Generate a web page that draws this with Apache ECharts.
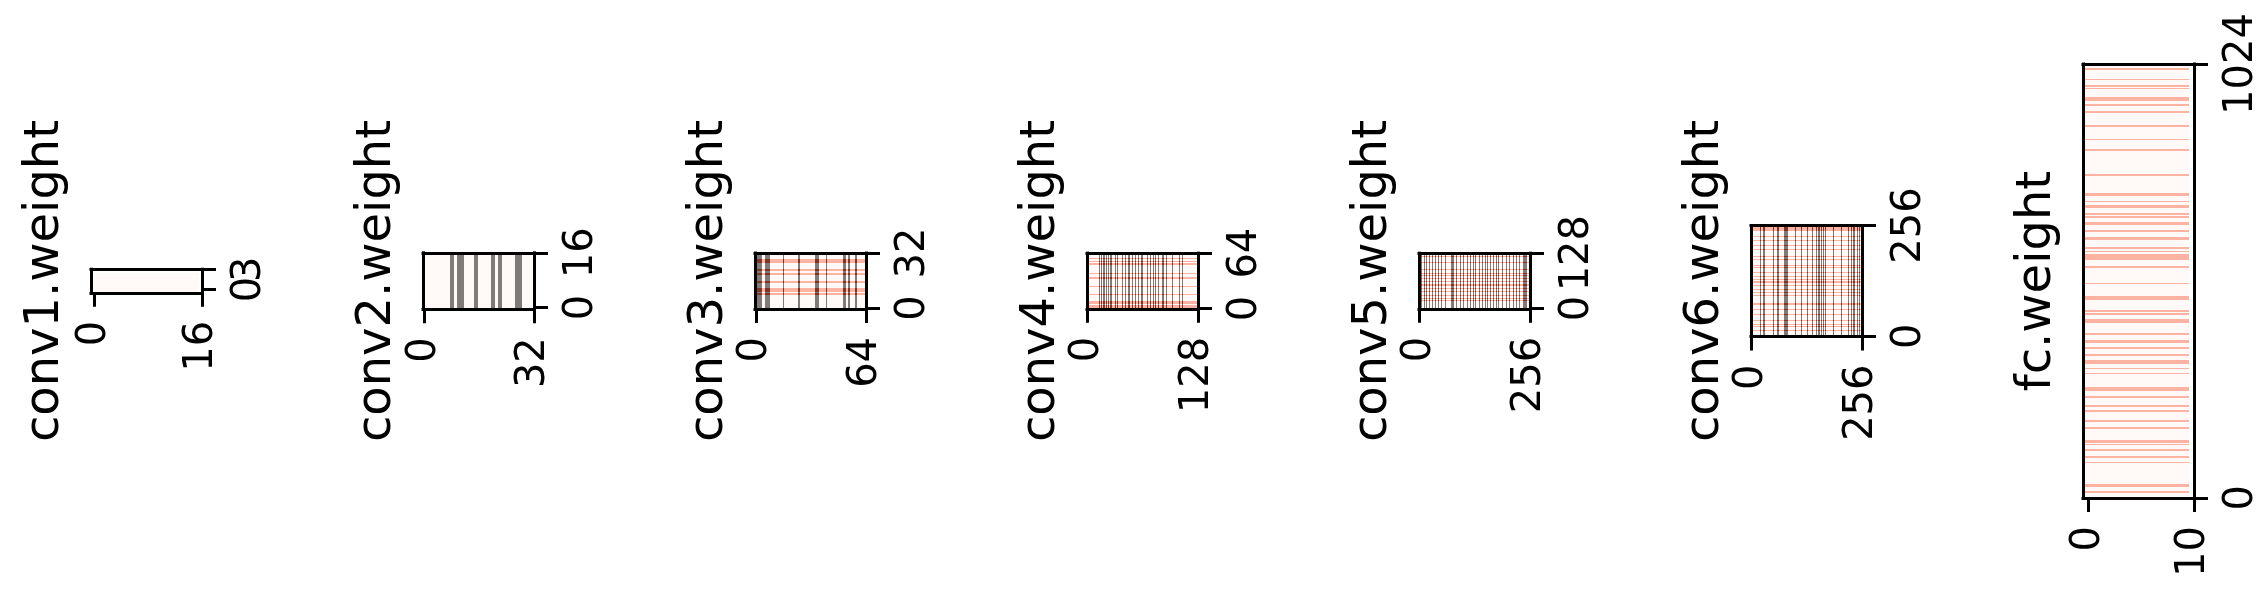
<!DOCTYPE html>
<html><head><meta charset="utf-8">
<script src="https://cdn.jsdelivr.net/npm/echarts@6/dist/echarts.min.js"></script>
<style>html,body{margin:0;padding:0;background:#fff}#chart{width:2268px;height:594px}</style>
</head><body><div id="chart"></div>
<script>
// ---------------- data ----------------
const layerNames = ['conv1.weight','conv2.weight','conv3.weight','conv4.weight','conv5.weight','conv6.weight','fc.weight'];
const xTickMax = [16, 32, 64, 128, 256, 256, 10];     // number of columns (x axis tick labels 0 and this)
const yTickMax = [3, 16, 32, 64, 128, 256, 1024];     // number of rows (y axis tick labels 0 and this)

// masked output channels -> dark vertical stripes
const conv1Cols = [];
const conv2Cols = [8,10,11,15,20,22,27,28];
const conv3Cols = [1,2,3,6,7,8,16,25,35,36,41,51,52,54,58];
const conv4Cols = [14,16,18,20,22,24,27,28,32,35,40,41,44,47,49,52,55,56,59,62,64,70,73,76,79,82,87,88,91,98,107,110];
const conv5Cols = [5,6,12,16,17,22,23,29,30,37,38,44,50,61,73,74,75,76,77,78,79,80,86,95,96,101,102,110,111,112,118,119,124,125,130,131,139,146,147,152,157,158,164,172,178,183,184,192,201,209,210,218,223,231,232,240,241,242,243,244,245,246,247,248];
const conv6Cols = [20,21,22,23,28,29,30,31,32,50,51,52,61,62,63,76,77,78,79,81,82,83,84,85,102,103,116,117,129,130,141,142,150,151,155,156,158,162,163,167,168,170,171,190,191,208,209,225,226,230,231,235,236,239,240,245,246,249,250];
const fcCols = [];

// masked input rows -> red horizontal stripes (as visible in the picture)
const conv1Rows = [];
const conv2Rows = [];
const conv3Rows = [8,10,11,15,20,22,27,28];
const conv4Rows = [1,2,3,6,7,8,16,25,35,36,41,51,52,54,58];
const conv5Rows = [19,24,30,41,46,53,57,64,70,76,82,91,107,120];
const conv6Rows = [15,23,29,38,50,62,73,74,75,76,77,94,101,108,118,124,125,128,131,139,149,159,164,178,186,201,211,223,232,243,244,245,246,247,248,249,250,251,252];
const fcRowRanges = [[12,16],[27,31],[83,85],[95,98],[110,114],[125,127],[131,137],[164,166],[179,182],[202,206],[215,218],[235,239],[252,261],[292,294],[304,307],[316,325],[335,339],[351,355],[367,371],[384,389],[412,422],[431,435],[438,442],[467,475],[504,506],[544,546],[563,567],[570,574],[581,583],[588,591],[610,614],[627,631],[644,650],[660,664],[668,672],[684,690],[699,701],[714,718],[759,763],[820,822],[844,846],[875,879],[908,912],[926,930],[936,946],[965,967],[971,975],[987,989],[1011,1015]];

// ---------------- helpers ----------------
function runs(idx){
  const s = idx.slice().sort((a,b)=>a-b); const out=[];
  for (const v of s){ const l=out[out.length-1]; if(l && v===l[1]+1) l[1]=v; else if(!l || v>l[1]) out.push([v,v]); }
  return out;
}
const colsList = [conv1Cols,conv2Cols,conv3Cols,conv4Cols,conv5Cols,conv6Cols,fcCols].map(runs);
const rowsList = [runs(conv1Rows),runs(conv2Rows),runs(conv3Rows),runs(conv4Rows),runs(conv5Rows),runs(conv6Rows),fcRowRanges];

// composite colours: Reds layer (alpha .5) over black column mask on white
const fills = ['#fffaf8', '#fcb3a1', '#807b78', '#7e3525']; // bg, row, col, row&col

function cellItems(i){
  const N=xTickMax[i], M=yTickMax[i], items=[[-0.5,N-0.5,-0.5,M-0.5,0]];
  for (const r of rowsList[i]) items.push([-0.5,N-0.5,r[0]-0.5,r[1]+0.5,1]);
  for (const c of colsList[i]) items.push([c[0]-0.5,c[1]+0.5,-0.5,M-0.5,2]);
  for (const r of rowsList[i]) for (const c of colsList[i]) items.push([c[0]-0.5,c[1]+0.5,r[0]-0.5,r[1]+0.5,3]);
  return items;
}
function renderItem(params, api){
  const a = api.coord([api.value(0), api.value(3)]);
  const b = api.coord([api.value(1), api.value(2)]);
  let l=Math.round(a[0]), r=Math.round(b[0]), t=Math.round(a[1]), bt=Math.round(b[1]);
  if (r<=l) r=l+1; if (bt<=t) bt=t+1;
  return {type:'rect', shape:{x:l,y:t,width:r-l,height:bt-t}, style:{fill:fills[api.value(4)]}};
}

// ---------------- layout ----------------
const FONT='DejaVu Sans';
const boxW=111, centerY=281, firstLeft=91, step=332;
const grids=[], xAxes=[], yAxes=[], series=[];
const lineStyle={color:'#000', width:3, cap:'square'};
const plain = v => String(v);
const tickLabel = {formatter:plain, showMinLabel:true, showMaxLabel:true, hideOverlap:false,
  rotate:90, margin:28, fontSize:40, color:'#000', fontFamily:FONT};
layerNames.forEach((name,i)=>{
  const N=xTickMax[i], M=yTickMax[i];
  const h = (i===6) ? 434 : boxW*(M+0.5)/(N+0.5);
  grids.push({left:firstLeft+step*i, top:centerY-h/2, width:boxW, height:h, show:false});
  // x axes: bottom (ticks + labels), top (frame line)
  xAxes.push({gridIndex:i, type:'value', position:'bottom', min:-0.5, max:N, z:10,
    axisLine:{show:true, onZero:false, lineStyle},
    axisTick:{show:true, inside:false, length:14, customValues:[0,N], lineStyle:{color:'#000',width:3}},
    axisLabel:Object.assign({show:true, customValues:[0,N]}, tickLabel),
    splitLine:{show:false}});
  xAxes.push({gridIndex:i, type:'value', position:'top', min:-0.5, max:N, z:10,
    axisLine:{show:true, onZero:false, lineStyle}, axisTick:{show:false}, axisLabel:{show:false}, splitLine:{show:false}});
  // y axes: right (ticks + label 0), right (label M), left (frame line + title)
  yAxes.push({gridIndex:i, type:'value', position:'right', min:-0.5, max:M, z:10,
    axisLine:{show:true, onZero:false, lineStyle},
    axisTick:{show:true, inside:false, length:14, customValues:[0,M], lineStyle:{color:'#000',width:3}},
    axisLabel:Object.assign({show:true, customValues:[0]}, tickLabel),
    splitLine:{show:false}});
  yAxes.push({gridIndex:i, type:'value', position:'right', offset:0, min:-0.5, max:M, z:10,
    axisLine:{show:false, onZero:false}, axisTick:{show:false},
    axisLabel:Object.assign({show:true, customValues:[M]}, tickLabel),
    splitLine:{show:false}});
  yAxes.push({gridIndex:i, type:'value', position:'left', min:-0.5, max:M, z:10,
    name:name, nameLocation:'middle', nameRotate:90, nameGap:21,
    nameTextStyle:{fontSize:48, color:'#000', fontFamily:FONT, lineHeight:48},
    axisLine:{show:true, onZero:false, lineStyle}, axisTick:{show:false}, axisLabel:{show:false}, splitLine:{show:false}});
  series.push({type:'custom', xAxisIndex:2*i, yAxisIndex:3*i, renderItem, encode:{x:[0,1], y:[2,3]},
    data:cellItems(i), silent:true, animation:false, z:2});
});

const chart = echarts.init(document.getElementById('chart'), null, {renderer:'canvas'});
chart.setOption({animation:false, backgroundColor:'#fff', grid:grids, xAxis:xAxes, yAxis:yAxes, series});
</script></body></html>
